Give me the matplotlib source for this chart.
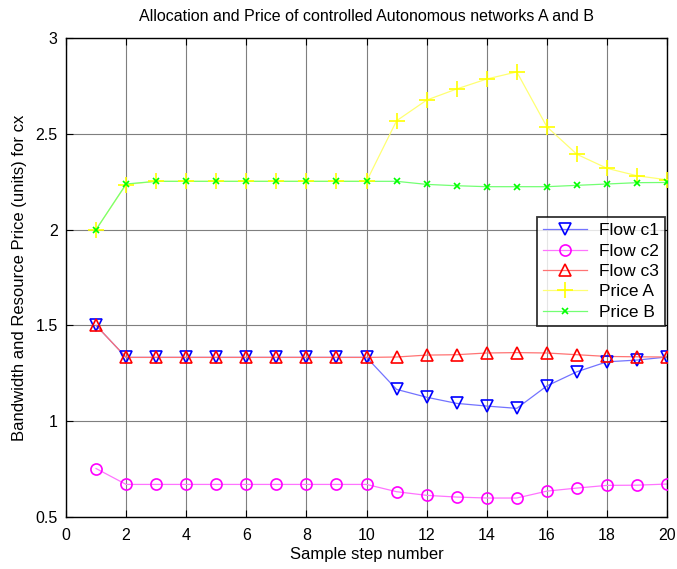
import matplotlib
matplotlib.use("Agg")
import matplotlib.pyplot as plt
import numpy as np
from matplotlib.lines import Line2D

plt.rcParams['font.family'] = ['Liberation Sans', 'DejaVu Sans']

steps = list(range(1, 21))
flow_c1 = [1.5, 1.333, 1.333, 1.333, 1.333, 1.333, 1.333, 1.333, 1.333, 1.333,
           1.166, 1.125, 1.093, 1.079, 1.067, 1.184, 1.258, 1.31, 1.319, 1.335]
flow_c2 = [0.753, 0.67, 0.67, 0.67, 0.67, 0.67, 0.67, 0.67, 0.67, 0.67,
           0.632, 0.613, 0.604, 0.599, 0.599, 0.635, 0.651, 0.665, 0.666, 0.672]
flow_c3 = [1.5, 1.333, 1.333, 1.333, 1.333, 1.333, 1.333, 1.333, 1.333, 1.333,
           1.335, 1.345, 1.347, 1.356, 1.358, 1.356, 1.347, 1.338, 1.336, 1.335]
price_a = [2.0, 2.235, 2.252, 2.252, 2.252, 2.252, 2.252, 2.252, 2.252, 2.252,
           2.568, 2.676, 2.734, 2.786, 2.823, 2.537, 2.393, 2.32, 2.281, 2.26]
price_b = [2.0, 2.238, 2.252, 2.252, 2.252, 2.252, 2.252, 2.252, 2.252, 2.252,
           2.252, 2.236, 2.229, 2.224, 2.224, 2.224, 2.231, 2.238, 2.245, 2.246]

xticks = [0, 2, 4, 6, 8, 10, 12, 14, 16, 18, 20]
yticks = [0.5, 1, 1.5, 2, 2.5, 3]

fig = plt.figure(figsize=(6.77, 5.69), dpi=100)
ax = fig.add_axes([0.0975, 0.0914, 0.8878, 0.8418])

series = [
    (flow_c1, 'v', (0, 0, 1), 'Flow c1', 9, True),
    (flow_c2, 'o', (1, 0, 1), 'Flow c2', 8, True),
    (flow_c3, '^', (1, 0, 0), 'Flow c3', 9, True),
    (price_a, '+', (1, 1, 0), 'Price A', 12, False),
    (price_b, 'x', (0, 1, 0), 'Price B', 5, False),
]
handles = []
for vals, m, c, lab, ms, hollow in series:
    linec = tuple(0.55 * np.array(c) + 0.45 * np.ones(3))
    ax.plot(steps, vals, '-', color=linec, lw=0.9, zorder=2)
    ax.plot(steps, vals, m, color=c, ms=ms, mfc='none' if hollow else c,
            mec=c, mew=1.2, zorder=3)
    handles.append(Line2D([], [], color=linec, lw=0.9, marker=m, ms=ms,
                          mfc='none' if hollow else c, mec=c, mew=1.2, label=lab))

leg = ax.legend(handles=handles, loc='upper right', bbox_to_anchor=(0.9967, 0.626),
                fontsize=12.5, frameon=True, fancybox=False, edgecolor='black',
                handlelength=2.5, borderpad=0.35, labelspacing=0.3, handletextpad=0.7,
                borderaxespad=0)
leg.get_frame().set_linewidth(1.3)

ax.set_xlim(0, 20)
ax.set_ylim(0.5, 3)
ax.set_xticks(xticks)
ax.set_yticks(yticks)
ax.set_yticklabels(['0.5', '1', '1.5', '2', '2.5', '3'])
ax.grid(True, color='#7f7f7f', lw=0.8)
ax.set_axisbelow(True)
ax.tick_params(direction='in', top=True, right=True, labelsize=11.5, length=5)
ax.tick_params(axis='x', pad=8)
ax.tick_params(axis='y', pad=6)
for s in ax.spines.values():
    s.set_linewidth(1.0)
ax.set_xlabel('Sample step number', fontsize=12, labelpad=3)
ax.set_ylabel('Bandwidth and Resource Price (units) for cx', fontsize=12, labelpad=6)
ax.set_title('Allocation and Price of controlled Autonomous networks A and B', fontsize=11.5, pad=12)

fig.savefig('out.png', dpi=100)
